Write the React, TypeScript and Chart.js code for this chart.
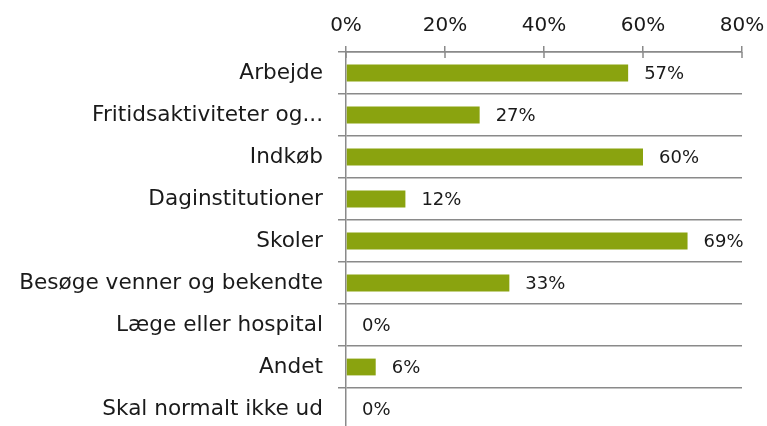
import React, { useEffect, useRef } from "react";
import { Chart, registerables } from "chart.js";

Chart.register(...registerables);

const categories = [
  "Arbejde",
  "Fritidsaktiviteter og...",
  "Indkøb",
  "Daginstitutioner",
  "Skoler",
  "Besøge venner og bekendte",
  "Læge eller hospital",
  "Andet",
  "Skal normalt ikke ud",
];
const values = [57, 27, 60, 12, 69, 33, 0, 6, 0];
const tickValues = [0, 20, 40, 60, 80];

const FONT = "'DejaVu Sans', sans-serif";
const GRID = "#8a8a8a";
const TEXT = "#1a1a1a";
const BAR = "#8aa30f";

const valueLabels = {
  id: "valueLabels",
  afterDatasetsDraw(chart: any) {
    const ctx = chart.ctx;
    const meta = chart.getDatasetMeta(0);
    ctx.save();
    ctx.font = "18px " + FONT;
    ctx.fillStyle = TEXT;
    ctx.textAlign = "left";
    ctx.textBaseline = "middle";
    meta.data.forEach((el: any, i: number) => {
      ctx.fillText(values[i] + "%", el.x + 16, el.y + 1);
    });
    ctx.restore();
  },
};

const crossTicks = {
  id: "crossTicks",
  afterDraw(chart: any) {
    const ctx = chart.ctx;
    const xs = chart.scales.x;
    const y0 = chart.chartArea.top;
    ctx.save();
    ctx.strokeStyle = GRID;
    ctx.lineWidth = 1.5;
    tickValues.forEach((v) => {
      const x = xs.getPixelForValue(v);
      ctx.beginPath();
      ctx.moveTo(x, y0);
      ctx.lineTo(x, y0 + 6);
      ctx.stroke();
    });
    ctx.restore();
  },
};

export default function App() {
  const ref = useRef<HTMLCanvasElement | null>(null);
  useEffect(() => {
    document.body.style.margin = "0";
    document.body.style.overflow = "hidden";
    const chart = new Chart(ref.current as HTMLCanvasElement, {
      type: "bar",
      data: {
        labels: categories,
        datasets: [
          {
            data: values,
            backgroundColor: BAR,
            barPercentage: 0.4,
            categoryPercentage: 1,
          },
        ],
      },
      options: {
        indexAxis: "y",
        animation: false,
        responsive: false,
        maintainAspectRatio: false,
        layout: { padding: { top: 0, right: 25, bottom: 2, left: 0 } },
        plugins: { legend: { display: false }, tooltip: { enabled: false } },
        scales: {
          x: {
            position: "top",
            min: 0,
            max: 80,
            afterFit: (s: any) => {
              s.height = 52;
              s.paddingRight = 0;
              s.paddingLeft = 0;
            },
            ticks: {
              stepSize: 20,
              callback: (v: any) => v + "%",
              font: { family: FONT, size: 20 },
              color: TEXT,
              padding: 8,
            },
            grid: {
              drawOnChartArea: false,
              color: GRID,
              lineWidth: 1.5,
              tickLength: 6,
            },
            border: { display: true, color: GRID, width: 1.5 },
          },
          y: {
            afterFit: (s: any) => {
              s.width = 346;
              s.paddingTop = 0;
              s.paddingBottom = 0;
            },
            ticks: {
              font: { family: FONT, size: 21.6 },
              color: TEXT,
              padding: 15,
            },
            grid: {
              offset: true,
              color: GRID,
              lineWidth: 1.5,
              tickLength: 8,
            },
            border: { display: true, color: GRID, width: 1.5 },
          },
        },
      },
      plugins: [valueLabels, crossTicks],
    } as any);
    return () => chart.destroy();
  }, []);
  return (
    <div style={{ position: "fixed", left: 0, top: 0, width: 767, height: 432 }}>
      <canvas ref={ref} width={767} height={432} style={{ width: 767, height: 432 }} />
    </div>
  );
}
